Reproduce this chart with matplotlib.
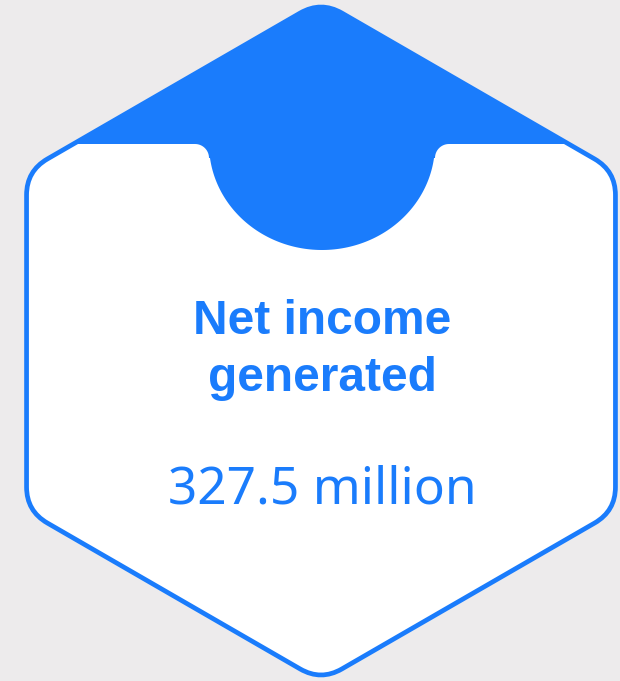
import numpy as np
import matplotlib
matplotlib.use("Agg")
import matplotlib.pyplot as plt
from matplotlib.path import Path
from matplotlib.patches import PathPatch

# contenido de la tarjeta
titulo = ["Net income", "generated"]
valor = 327.5
unidad = "million"

azul = "#1a7cfc"
fondo = "#edebec"

fig = plt.figure(figsize=(6.2, 6.81), dpi=100, facecolor=fondo)
ax = fig.add_axes([0, 0, 1, 1])
ax.set_xlim(0, 620)
ax.set_ylim(681, 0)
ax.axis("off")


def poligono_redondeado(vertices, d):
    # esquinas suavizadas con curvas cuadráticas
    vertices = [np.array(v, dtype=float) for v in vertices]
    n = len(vertices)
    pts, codes = [], []
    for i in range(n):
        v = vertices[i]
        ant = vertices[i - 1]
        sig = vertices[(i + 1) % n]
        a = v + (ant - v) / np.linalg.norm(ant - v) * d
        b = v + (sig - v) / np.linalg.norm(sig - v) * d
        pts.append(a)
        codes.append(Path.MOVETO if i == 0 else Path.LINETO)
        pts += [v, b]
        codes += [Path.CURVE3, Path.CURVE3]
    pts.append(pts[0])
    codes.append(Path.CLOSEPOLY)
    return Path(pts, codes)


# hexágono
cx, cy, R = 321, 341, 340
angulos = np.radians([90, 150, 210, 270, 330, 30])
verts = [(cx + R * np.cos(t), cy - R * np.sin(t)) for t in angulos]
hexagono = poligono_redondeado(verts, 24)

fondo_hex = PathPatch(hexagono, facecolor="white", edgecolor="none", zorder=1)
ax.add_patch(fondo_hex)

# franja superior azul con el semicírculo
y0, r_f = 144, 14
ex, ea, eb = 322, 113, 106
izq = ex - ea
der = ex + ea
pts = [(-10, -10), (-10, y0), (izq - r_f, y0)]
t = np.linspace(-np.pi / 2, 0, 20)
pts += list(zip(izq - r_f + r_f * np.cos(t), y0 + r_f + r_f * np.sin(t)))
t0 = np.arcsin(r_f / eb)
t = np.linspace(np.pi - t0, t0, 120)
pts += list(zip(ex + ea * np.cos(t), y0 + eb * np.sin(t)))
t = np.linspace(np.pi, 3 * np.pi / 2, 20)
pts += list(zip(der + r_f + r_f * np.cos(t), y0 + r_f + r_f * np.sin(t)))
pts += [(630, y0), (630, -10)]
franja = PathPatch(Path(pts + [pts[0]]), facecolor=azul, edgecolor="none", zorder=2)
ax.add_patch(franja)
franja.set_clip_path(fondo_hex)

borde = PathPatch(hexagono, facecolor="none", edgecolor=azul, lw=3.4, zorder=3)
ax.add_patch(borde)

# textos
ax.text(322, 334, titulo[0], ha="center", va="baseline", color=azul,
        fontsize=34.5, fontweight="bold", family="Liberation Sans", zorder=4)
ax.text(322, 391, titulo[1], ha="center", va="baseline", color=azul,
        fontsize=34.5, fontweight="bold", family="Liberation Sans", zorder=4)
ax.text(322, 503, f"{valor} {unidad}", ha="center", va="baseline", color=azul,
        fontsize=37, family="Noto Sans", zorder=4)

fig.savefig("out.png", dpi=100, facecolor=fondo)
